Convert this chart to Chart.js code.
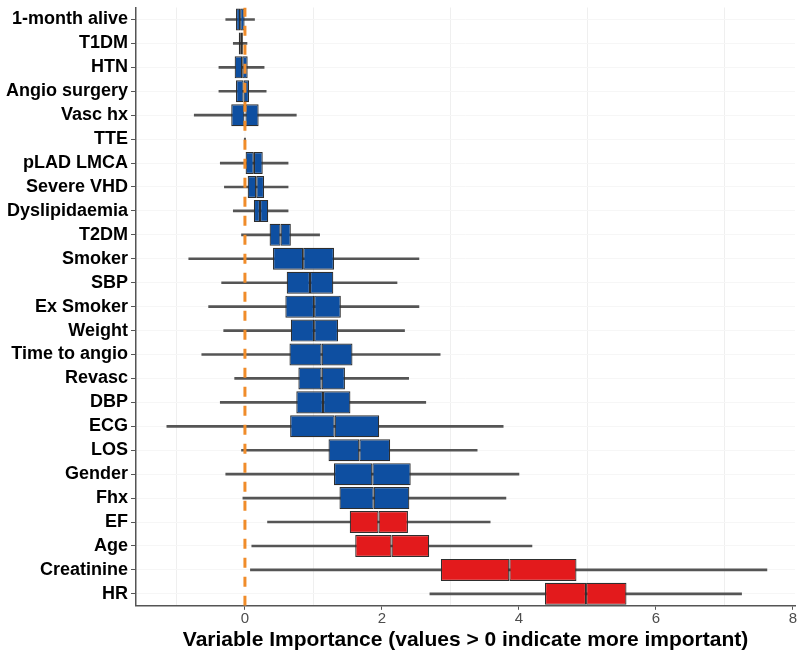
<!DOCTYPE html>
<html>
<head>
<meta charset="utf-8">
<script src="https://cdn.jsdelivr.net/npm/chart.js@4.4.1/dist/chart.umd.min.js"></script>
<style>
  html, body { margin: 0; padding: 0; background: #fff; }
  #wrap { width: 800px; height: 656px; position: relative; }
</style>
</head>
<body>
<div id="wrap"><canvas id="chartVimp"></canvas></div>
<script>
const variables = ['1-month alive', 'T1DM', 'HTN', 'Angio surgery', 'Vasc hx', 'TTE', 'pLAD LMCA', 'Severe VHD',
  'Dyslipidaemia', 'T2DM', 'Smoker', 'SBP', 'Ex Smoker', 'Weight', 'Time to angio', 'Revasc', 'DBP', 'ECG',
  'LOS', 'Gender', 'Fhx', 'EF', 'Age', 'Creatinine', 'HR'];

// whisker ends, quartiles, medians
const whiskerLow  = [-0.28, -0.17, -0.38, -0.38, -0.74, -0.01, -0.36, -0.30, -0.17, -0.05, -0.82, -0.34, -0.53, -0.31, -0.63, -0.15, -0.36, -1.14, -0.05, -0.28, -0.03, 0.33, 0.10, 0.08, 2.70];
const q1          = [-0.13, -0.09, -0.15, -0.13, -0.20, -0.005, 0.01, 0.04, 0.13, 0.36, 0.41, 0.61, 0.59, 0.67, 0.65, 0.78, 0.75, 0.66, 1.22, 1.30, 1.38, 1.53, 1.61, 2.86, 4.38];
const median      = [-0.07, -0.06, -0.04, -0.02, 0.00, 0.00, 0.13, 0.165, 0.22, 0.52, 0.85, 0.95, 1.01, 1.01, 1.12, 1.12, 1.14, 1.31, 1.67, 1.86, 1.88, 1.95, 2.14, 3.86, 4.98];
const q3          = [-0.005, -0.03, 0.04, 0.06, 0.20, 0.005, 0.26, 0.28, 0.34, 0.67, 1.30, 1.29, 1.40, 1.36, 1.57, 1.46, 1.54, 1.96, 2.12, 2.42, 2.40, 2.38, 2.69, 4.84, 5.57];
const whiskerHigh = [0.14, 0.03, 0.28, 0.31, 0.75, 0.01, 0.63, 0.63, 0.63, 1.09, 2.54, 2.22, 2.54, 2.33, 2.85, 2.39, 2.64, 3.77, 3.39, 4.00, 3.81, 3.58, 4.19, 7.62, 7.25];
const highlighted = ['EF', 'Age', 'Creatinine', 'HR'];
const zeroLine = 0;
const xTicks = [0, 2, 4, 6, 8];

const BLUE = '#0e4fa1';
const RED = '#e31a1c';
const ORANGE = '#f08c2a';
const EDGE = '#2e2e2e';
const WHISKER = '#555555';

const fills = variables.map(v => highlighted.includes(v) ? RED : BLUE);

const boxCommon = {
  backgroundColor: fills,
  borderColor: EDGE,
  borderWidth: 1.2,
  borderSkipped: false,
  grouped: false,
  categoryPercentage: 1,
  barPercentage: 0.92
};

new Chart(document.getElementById('chartVimp'), {
  data: {
    labels: variables,
    datasets: [
      {
        type: 'line',
        data: [{ x: zeroLine, y: 0 }, { x: zeroLine, y: 1 }],
        yAxisID: 'y2',
        borderColor: ORANGE,
        borderWidth: 3,
        borderDash: [10, 9],
        pointRadius: 0,
        order: 0
      },
      { type: 'bar', data: variables.map((v, i) => [q1[i], median[i]]), ...boxCommon, order: 1 },
      { type: 'bar', data: variables.map((v, i) => [median[i], q3[i]]), ...boxCommon, order: 1 },
      {
        type: 'bar',
        data: variables.map((v, i) => [whiskerLow[i], whiskerHigh[i]]),
        backgroundColor: WHISKER,
        borderWidth: 0,
        grouped: false,
        barThickness: 2,
        order: 2
      }
    ]
  },
  options: {
    indexAxis: 'y',
    responsive: true,
    maintainAspectRatio: false,
    animation: false,
    layout: { padding: { top: 5, right: 5, left: 3, bottom: 3 } },
    plugins: { legend: { display: false }, tooltip: { enabled: false } },
    scales: {
      x: {
        type: 'linear',
        min: -1.59,
        max: 8.03,
        ticks: {
          stepSize: 1,
          includeBounds: false,
          color: '#4d4d4d',
          font: { family: "'Liberation Sans', Arial, sans-serif", size: 15 },
          padding: 0,
          callback: v => xTicks.includes(v) ? String(v) : ''
        },
        grid: {
          color: ctx => (ctx.tick && xTicks.includes(ctx.tick.value)) ? 'rgba(0,0,0,0)' : '#efefef',
          tickColor: ctx => (ctx.tick && xTicks.includes(ctx.tick.value)) ? '#555' : 'rgba(0,0,0,0)',
          tickLength: 4,
          lineWidth: 1
        },
        border: { display: true, color: '#555', width: 1.5 },
        title: {
          display: true,
          text: 'Variable Importance (values > 0 indicate more important)',
          color: '#000',
          font: { family: "'Liberation Sans', Arial, sans-serif", size: 21, weight: 'bold' },
          padding: { top: 0, bottom: 0 }
        }
      },
      y: {
        type: 'category',
        offset: true,
        ticks: {
          color: '#000',
          font: { family: "'Liberation Sans', Arial, sans-serif", size: 18, weight: 'bold', lineHeight: 0.5 },
          padding: 3,
          autoSkip: false
        },
        grid: { offset: false, color: '#f6f6f6', tickColor: '#555', tickLength: 5 },
        border: { display: true, color: '#555', width: 1.5 }
      },
      y2: { type: 'linear', display: false, min: 0, max: 1 }
    }
  }
});
</script>
</body>
</html>
